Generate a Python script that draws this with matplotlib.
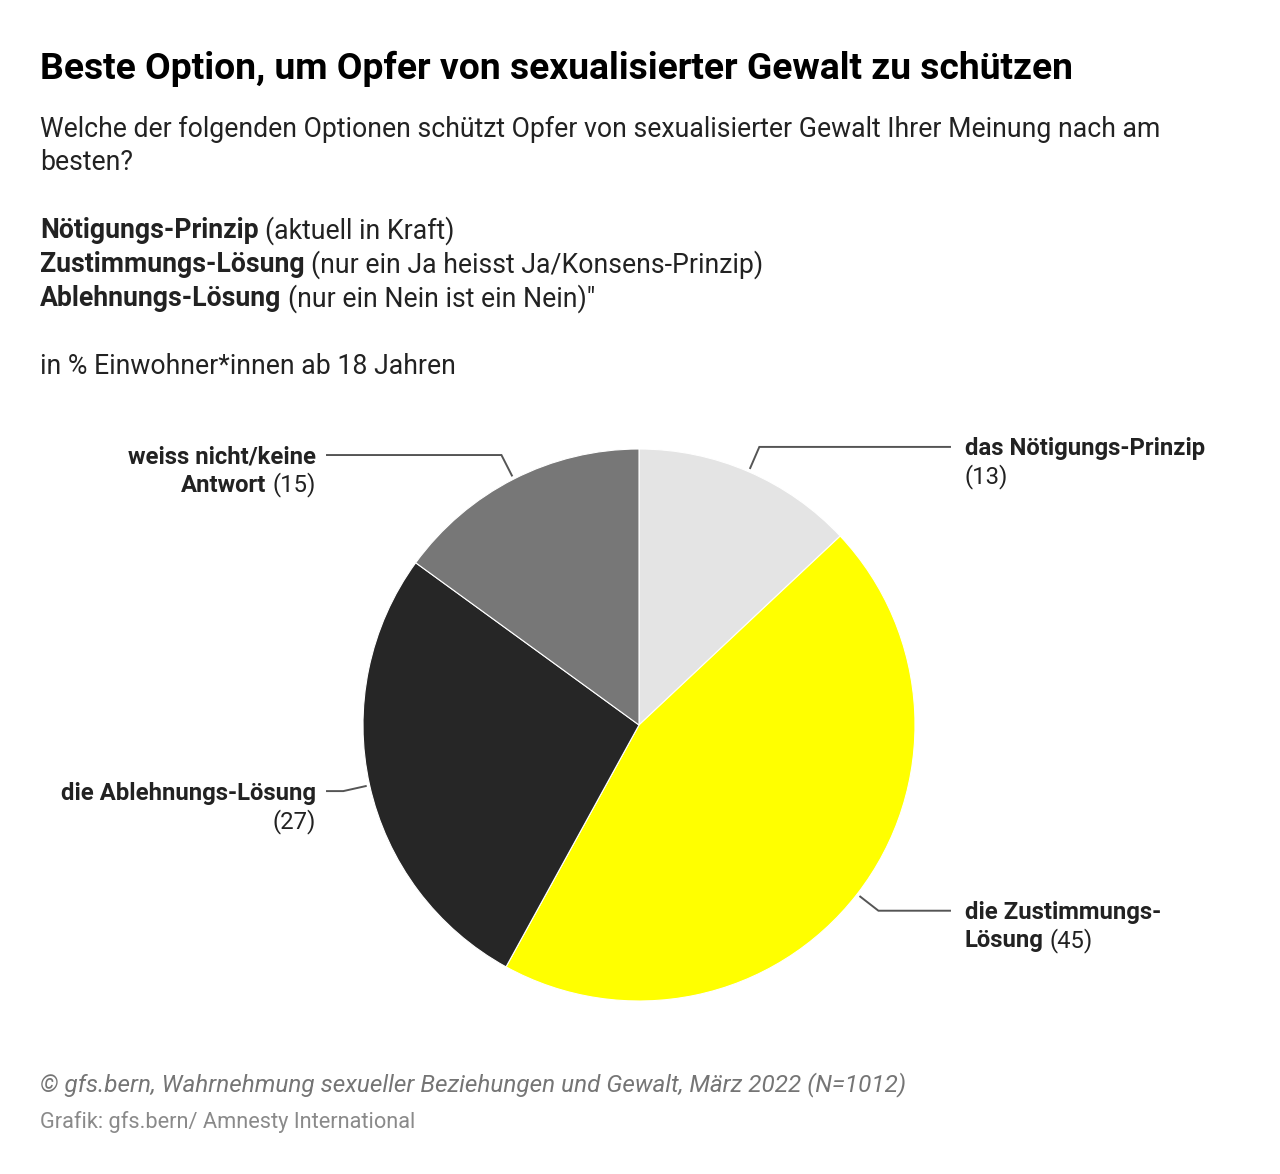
import matplotlib
matplotlib.use("Agg")
import matplotlib.pyplot as plt
import numpy as np

W, H = 1280, 1174
plt.rcParams['font.family'] = ['Roboto', 'DejaVu Sans']

# data
categories = ["das Nötigungs-Prinzip", "die Zustimmungs-Lösung",
              "die Ablehnungs-Lösung", "weiss nicht/keine Antwort"]
values = [13, 45, 27, 15]
colors = ["#e4e4e4", "#ffff00", "#262626", "#777777"]

# label lines: list of lines, each a list of (text, bold)
label_lines = [
    [[("das Nötigungs-Prinzip", True)], [("(13)", False)]],
    [[("die Zustimmungs-", True)], [("Lösung", True), ("(45)", False)]],
    [[("die Ablehnungs-Lösung", True)], [("(27)", False)]],
    [[("weiss nicht/keine", True)], [("Antwort", True), ("(15)", False)]],
]

title = "Beste Option, um Opfer von sexualisierter Gewalt zu schützen"
subtitle = ["Welche der folgenden Optionen schützt Opfer von sexualisierter Gewalt Ihrer Meinung nach am",
            "besten?"]
options = [
    [("Nötigungs-Prinzip", True), ("(aktuell in Kraft)", False)],
    [("Zustimmungs-Lösung", True), ("(nur ein Ja heisst Ja/Konsens-Prinzip)", False)],
    [("Ablehnungs-Lösung", True), ("(nur ein Nein ist ein Nein)\"", False)],
]
unit = "in % Einwohner*innen ab 18 Jahren"
source = "© gfs.bern, Wahrnehmung sexueller Beziehungen und Gewalt, März 2022 (N=1012)"
credit = "Grafik: gfs.bern/ Amnesty International"

fig = plt.figure(figsize=(W / 100, H / 100), dpi=100)
ax = fig.add_axes([0, 0, 1, 1])
ax.set_xlim(0, W)
ax.set_ylim(0, H)
ax.axis("off")

renderer = fig.canvas.get_renderer()
PT = 72 / 100  # px -> pt
DY = 2  # small downward nudge for text


def rich(x, y, pieces, size, ha="left", color="#222222"):
    # draw bold/regular pieces on one line, y in top-down pixels
    gap = size * 0.25
    arts = []
    for txt, bold in pieces:
        t = ax.text(0, H - y - DY, txt, fontsize=size * PT, va="center", ha="left",
                    fontweight="bold" if bold else "normal", color=color)
        arts.append(t)
    widths = [a.get_window_extent(renderer).width for a in arts]
    total = sum(widths) + gap * (len(arts) - 1)
    x0 = x if ha == "left" else x - total
    for a, w in zip(arts, widths):
        a.set_x(x0)
        x0 += w + gap


# header
ax.text(40, H - 67 - DY, title, fontsize=37.3 * PT, fontweight="bold", color="#000000",
        va="center", ha="left")
for i, line in enumerate(subtitle):
    ax.text(40, H - (127 + 34 * i) - DY, line, fontsize=26.6 * PT, color="#222222",
            va="center", ha="left")
for i, pieces in enumerate(options):
    rich(40, 229 + 34 * i, pieces, 26.6)
ax.text(40, H - 365 - DY, unit, fontsize=26.6 * PT, color="#222222", va="center", ha="left")

# pie
cx, cy, R = 639, 725, 276
wedges, _ = ax.pie(values, colors=colors, startangle=90, counterclock=False,
                   center=(cx, H - cy), radius=R,
                   wedgeprops=dict(edgecolor="white", linewidth=0.8))
ax.set_xlim(0, W)
ax.set_ylim(0, H)
ax.set_aspect("equal")

for w, lines in zip(wedges, label_lines):
    mid = np.deg2rad((w.theta1 + w.theta2) / 2)
    x1, y1 = cx + (R + 4) * np.cos(mid), cy - (R + 4) * np.sin(mid)
    x2, y2 = cx + (R + 27) * np.cos(mid), cy - (R + 27) * np.sin(mid)
    right = np.cos(mid) > 0
    x3 = 950 if right else 327
    ax.plot([x1, x2, x3], [H - y1, H - y2, H - y2], color="#555555", lw=1.4,
            solid_joinstyle="miter")
    for j, pieces in enumerate(lines):
        if right:
            rich(965, y2 + 28 * j, pieces, 23.9)
        else:
            rich(316, y2 + 28 * j, pieces, 23.9, ha="right")

# footer
ax.text(40, H - 1083 - DY, source, fontsize=24.2 * PT, fontstyle="italic", color="#757575",
        va="center", ha="left")
ax.text(40, H - 1120 - DY, credit, fontsize=21.8 * PT, color="#8a8a8a",
        va="center", ha="left")

fig.savefig("out.png", dpi=100, facecolor="white")
